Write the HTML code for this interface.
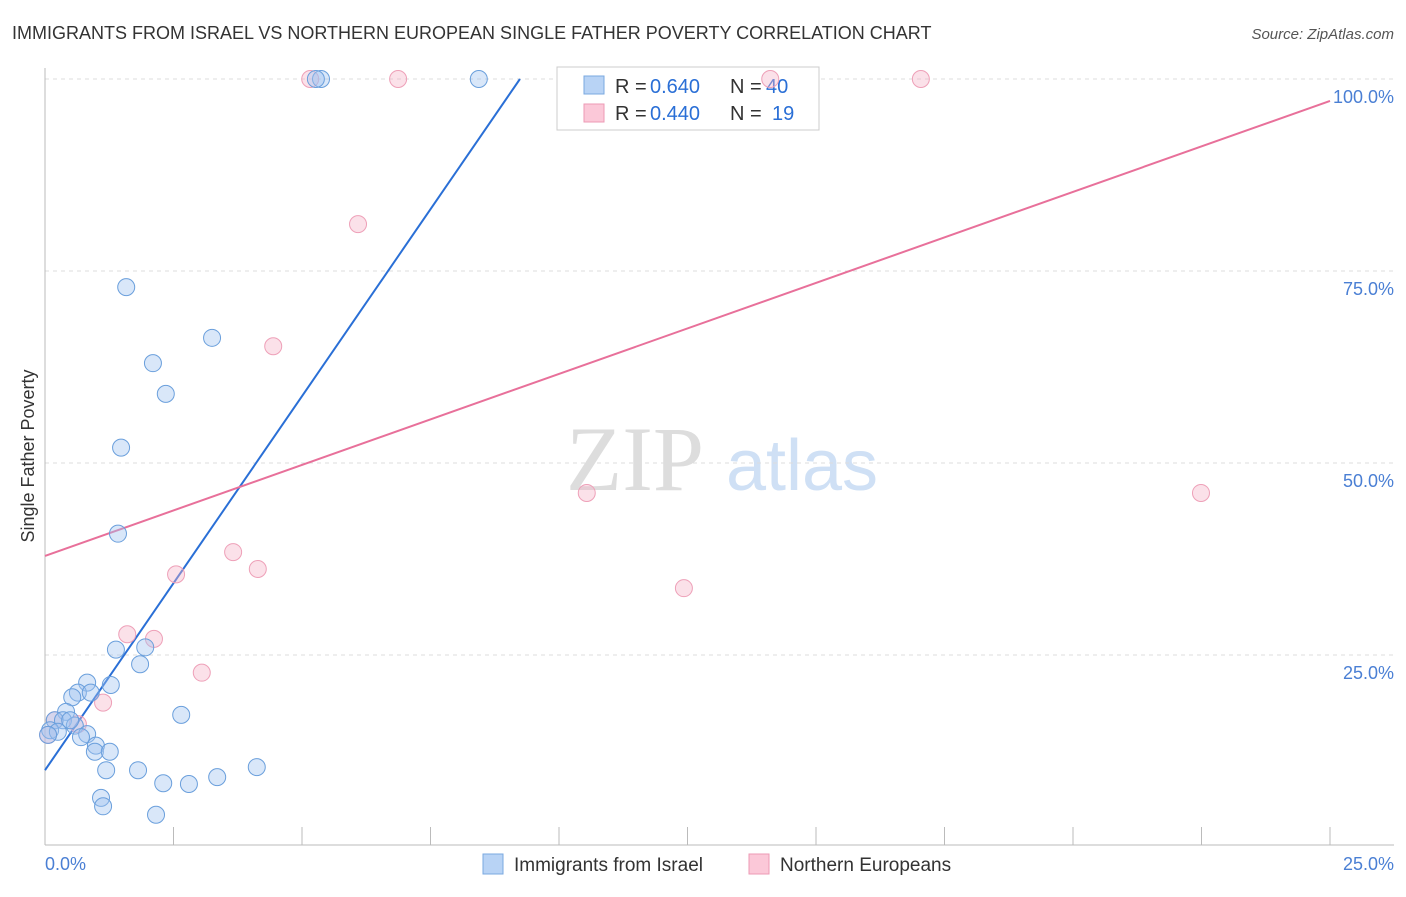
<!DOCTYPE html>
<html><head><meta charset="utf-8"><style>
body{margin:0;background:#fff;font-family:"Liberation Sans",sans-serif;}
</style></head><body>
<svg width="1406" height="892" xmlns="http://www.w3.org/2000/svg" id="svg">
<text x="12" y="39" font-size="18" fill="#333">IMMIGRANTS FROM ISRAEL VS NORTHERN EUROPEAN SINGLE FATHER POVERTY CORRELATION CHART</text>
<text x="1394" y="39" font-size="15" fill="#555" font-style="italic" text-anchor="end">Source: ZipAtlas.com</text>
<text x="34" y="456" font-size="18" fill="#333" text-anchor="middle" transform="rotate(-90 34 456)">Single Father Poverty</text>
<g>
<text x="635" y="490" font-size="92" fill="#ddd" font-family="Liberation Serif,serif" text-anchor="middle">ZIP</text>
<text x="802" y="490" font-size="72" fill="#cfe0f5" text-anchor="middle">atlas</text>
</g>
<g id="grid"></g><g id="axes"></g>
<g>
<rect x="557" y="67" width="262" height="63" fill="#fff" stroke="#ccc"/>
<rect x="584" y="76" width="20" height="18" fill="#b8d3f5" stroke="#7aa8e0"/>
<rect x="584" y="104" width="20" height="18" fill="#fbc8d8" stroke="#ec9ab5"/>
<text x="615" y="93" font-size="20" fill="#333">R =</text>
<text x="650" y="93" font-size="20" fill="#2a6fd6">0.640</text>
<text x="730" y="93" font-size="20" fill="#333">N =</text>
<text x="766" y="93" font-size="20" fill="#2a6fd6">40</text>
<text x="615" y="120" font-size="20" fill="#333">R =</text>
<text x="650" y="120" font-size="20" fill="#2a6fd6">0.440</text>
<text x="730" y="120" font-size="20" fill="#333">N =</text>
<text x="772" y="120" font-size="20" fill="#2a6fd6">19</text>
</g>
<g id="lines"></g><g id="pts"></g>
<g>
<rect x="483" y="854" width="20" height="20" fill="#b8d3f5" stroke="#7aa8e0"/>
<text x="514" y="871" font-size="19" fill="#333">Immigrants from Israel</text>
<rect x="749" y="854" width="20" height="20" fill="#fbc8d8" stroke="#ec9ab5"/>
<text x="780" y="871" font-size="19" fill="#333">Northern Europeans</text>
</g>
</svg>
<script>
const blueX=[1.58,3.25,2.10,2.35,1.48,1.42,1.95,1.38,1.85,0.82,1.28,0.64,0.53,0.89,0.41,0.19,0.35,0.58,0.10,0.25,0.82,0.70,0.99,0.97,1.26,2.65,1.19,1.81,2.30,2.80,3.35,4.12,1.09,1.13,2.16,5.37,5.27,8.44,0.06,0.49];
const blueY=[72.9,66.3,63.0,59.0,52.0,40.8,26.0,25.7,23.8,21.4,21.1,20.1,19.5,20.1,17.6,16.5,16.5,15.8,15.2,15.0,14.7,14.3,13.2,12.4,12.4,17.2,10.0,10.0,8.3,8.2,9.1,10.4,6.4,5.3,4.2,100,100,100,14.6,16.5];
const pinkX=[5.16,6.87,14.11,17.04,6.09,4.44,10.54,22.49,3.66,4.14,2.55,12.43,1.60,2.12,3.05,1.13,0.64,0.19,0.06];
const pinkY=[100,100,100,100,81.1,65.2,46.1,46.1,38.4,36.2,35.5,33.7,27.7,27.1,22.7,18.8,16.0,16.5,14.6];
const blueLine=[10.0,9.74];
const pinkLine=[37.9,2.37];
const xTicks=["0.0%","25.0%"];
const yTicks=[25,50,75,100];
const yTickLabels=["25.0%","50.0%","75.0%","100.0%"];
const NS="http://www.w3.org/2000/svg";
const sx=v=>45+v*51.4, sy=v=>847-v*7.68;
function mk(t,a,p){const e=document.createElementNS(NS,t);for(const k in a)e.setAttribute(k,a[k]);document.getElementById(p).appendChild(e);return e;}
yTicks.forEach((v,i)=>{
 const g=mk('line',{x1:45,x2:1394,y1:sy(v),y2:sy(v),stroke:'#ddd','stroke-dasharray':'4,4'},'grid');
 
 
 const t=mk('text',{x:1394,y:sy(v)+24,'font-size':18,fill:'#4a7fd4','text-anchor':'end'},'axes');
 t.textContent=yTickLabels[i];
 
 
});
const xa=mk('line',{x1:45,x2:1394,y1:845,y2:845,stroke:'#bbb'},'axes');


const ya=mk('line',{x1:45,x2:45,y1:68,y2:845,stroke:'#bbb'},'axes');


for(let i=1;i<=10;i++){const tk=mk('line',{x1:sx(i*2.5),x2:sx(i*2.5),y1:827,y2:845,stroke:'#bbb'},'axes');
 
 }
[[45,'start',0],[1394,'end',1]].forEach(([x,a,i])=>{const t=mk('text',{x:x,y:870,'font-size':18,fill:'#4a7fd4','text-anchor':a},'axes');t.textContent=xTicks[i];
 
 });
function ln(p,x2,c,n){const l=mk('line',{x1:sx(0),y1:sy(p[0]),x2:sx(x2),y2:sy(p[0]+p[1]*x2),stroke:c,'stroke-width':2},'lines');
 
 }
ln(blueLine,(100-blueLine[0])/blueLine[1],'#2a6fd6','blue-trend-line');
ln(pinkLine,25,'#e8709a','pink-trend-line');
pinkX.forEach((x,i)=>{const c=mk('circle',{cx:sx(x),cy:sy(pinkY[i]),r:8.5,fill:'rgba(246,180,200,0.4)',stroke:'#eea0b8','stroke-width':1},'pts');
 
 });
blueX.forEach((x,i)=>{const c=mk('circle',{cx:sx(x),cy:sy(blueY[i]),r:8.5,fill:'rgba(160,195,240,0.4)',stroke:'#6a9fdc','stroke-width':1},'pts');
 
 });
</script>
</body></html>
